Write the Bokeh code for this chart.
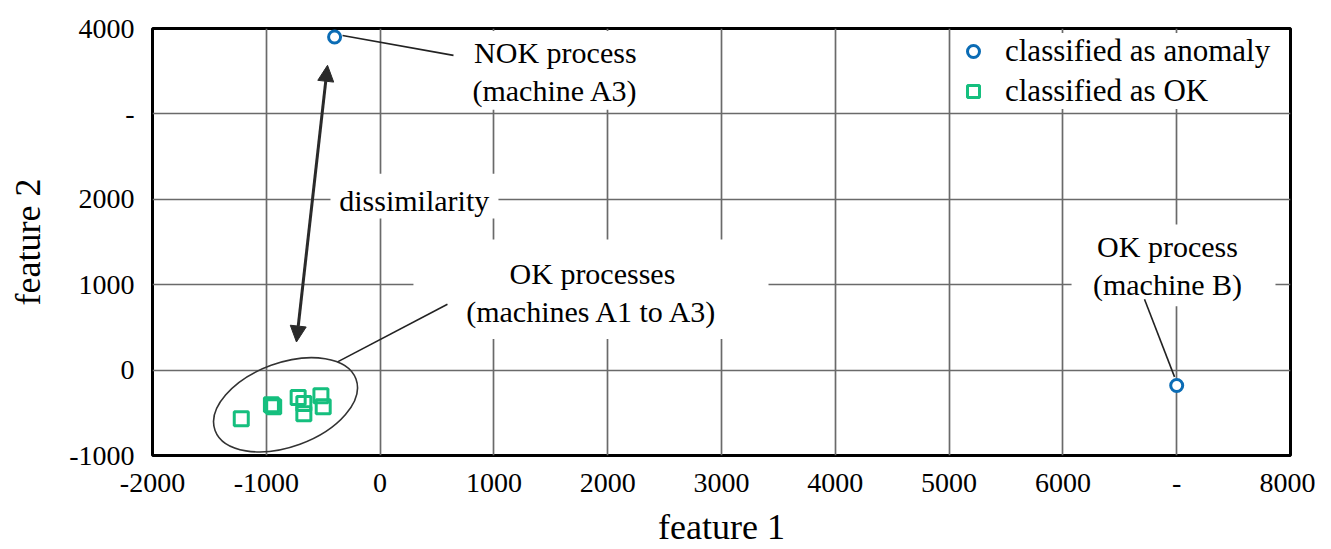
from bokeh.plotting import figure
from bokeh.models import ColumnDataSource, FixedTicker, Legend, LegendItem, Arrow, NormalHead
from bokeh.core.properties import value
from bokeh.embed import file_html
from bokeh.resources import INLINE

# ---- data ----
x_ticks = [-2000, -1000, 0, 1000, 2000, 3000, 4000, 5000, 6000, 7000, 8000]
x_tick_labels = ["-2000", "-1000", "0", "1000", "2000", "3000", "4000", "5000", "6000", "-", "8000"]
y_ticks = [-1000, 0, 1000, 2000, 3000, 4000]
y_tick_labels = ["-1000", "0", "1000", "2000", "-", "4000"]

anomaly_x = [-400, 7000]
anomaly_y = [3900, -180]
ok_x = [-1220, -955, -935, -720, -670, -670, -520, -500]
ok_y = [-570, -405, -430, -320, -390, -510, -300, -430]

legend_labels = ["classified as anomaly", "classified as OK"]
x_label = "feature 1"
y_label = "feature 2"

note_texts = ["NOK process\n(machine A3)", "dissimilarity",
              "OK processes\n(machines A1 to A3)", "OK process\n(machine B)"]
note_x = [1540, 300, 1866, 6919]
note_y = [3500, 1990, 906, 1220]

box_left = [706, -436, 293, 6076]
box_right = [2700, 1040, 3413, 7868]
box_bottom = [3050, 1774, 364, 748]
box_top = [3970, 2298, 1529, 1704]

lead_x0 = [-330, -374, 6717]
lead_y0 = [3918, 96, 830]
lead_x1 = [645, 592, 6981]
lead_y1 = [3685, 772, -79]

arrow_start = (-462, 3569)
arrow_end = (-735, 329)

cluster_center = (-831, -406)

BLUE = "#0b6cb5"
GREEN = "#15bf7e"
FONT = "Liberation Serif"

p = figure(width=1315, height=549, x_range=(-2000, 8000), y_range=(-1000, 4000),
           output_backend="svg", toolbar_location=None,
           min_border_left=152, min_border_right=25, min_border_top=28, min_border_bottom=92)

p.background_fill_color = "white"
p.border_fill_color = "white"
p.outline_line_color = "black"
p.outline_line_width = 3
p.outline_line_alpha = 1

p.xaxis.ticker = FixedTicker(ticks=x_ticks)
p.yaxis.ticker = FixedTicker(ticks=y_ticks)
p.xaxis.major_label_overrides = dict(zip(x_ticks, x_tick_labels))
p.yaxis.major_label_overrides = dict(zip(y_ticks, y_tick_labels))

for ax in (p.xaxis[0], p.yaxis[0]):
    ax.axis_line_color = None
    ax.major_tick_line_color = None
    ax.minor_tick_line_color = None
    ax.major_tick_in = 0
    ax.major_tick_out = 0
    ax.major_label_text_font = FONT
    ax.major_label_text_font_size = "28px"
    ax.major_label_text_color = "black"
    ax.axis_label_text_font = FONT
    ax.axis_label_text_font_size = "36px"
    ax.axis_label_text_font_style = "normal"
    ax.axis_label_text_color = "black"

p.xaxis.axis_label = x_label
p.yaxis.axis_label = y_label
p.xaxis.major_label_standoff = 18
p.xaxis.axis_label_standoff = 12
p.yaxis.major_label_standoff = 18
p.yaxis.axis_label_standoff = 18

p.grid.grid_line_color = "#6a6a6a"
p.grid.grid_line_width = 1.7

# white boxes behind annotation texts
p.quad(left=box_left, right=box_right, bottom=box_bottom, top=box_top,
       fill_color="white", line_color=None)

# leader lines
p.segment(x0=lead_x0, y0=lead_y0, x1=lead_x1, y1=lead_y1, line_color="#222222", line_width=1.6)

# ellipse around OK cluster
p.ellipse(x=[cluster_center[0]], y=[cluster_center[1]], width=150, height=84,
          width_units="screen", height_units="screen", angle=0.35,
          fill_color=None, line_color="#333333", line_width=1.6)

# dissimilarity double arrow
p.add_layout(Arrow(x_start=arrow_start[0], y_start=arrow_start[1],
                   x_end=arrow_end[0], y_end=arrow_end[1],
                   line_color="#2a2a2a", line_width=3,
                   start=NormalHead(size=16, fill_color="#2a2a2a", line_color="#2a2a2a"),
                   end=NormalHead(size=16, fill_color="#2a2a2a", line_color="#2a2a2a")))

# annotation texts
p.text(x=note_x, y=note_y, text=note_texts, text_font=value(FONT), text_font_size="30px",
       text_align="center", text_baseline="middle", text_color="black", text_line_height=1.15)

# data points
r_ok = p.scatter(ok_x, ok_y, marker="square", size=14, line_width=3,
                 line_color=GREEN, fill_color=None)
r_an = p.scatter(anomaly_x, anomaly_y, marker="circle", size=12, line_width=3,
                 line_color=BLUE, fill_color="white")

legend = Legend(items=[LegendItem(label=legend_labels[0], renderers=[r_an]),
                       LegendItem(label=legend_labels[1], renderers=[r_ok])],
                location=(806, 346),
                label_text_font=FONT, label_text_font_size="31px", label_text_color="black",
                label_height=34, glyph_height=30, glyph_width=30,
                label_standoff=17, spacing=4, padding=6, margin=0,
                border_line_color=None, background_fill_color="white", background_fill_alpha=1)
p.add_layout(legend)

open("out.html", "w").write(file_html(p, INLINE))
